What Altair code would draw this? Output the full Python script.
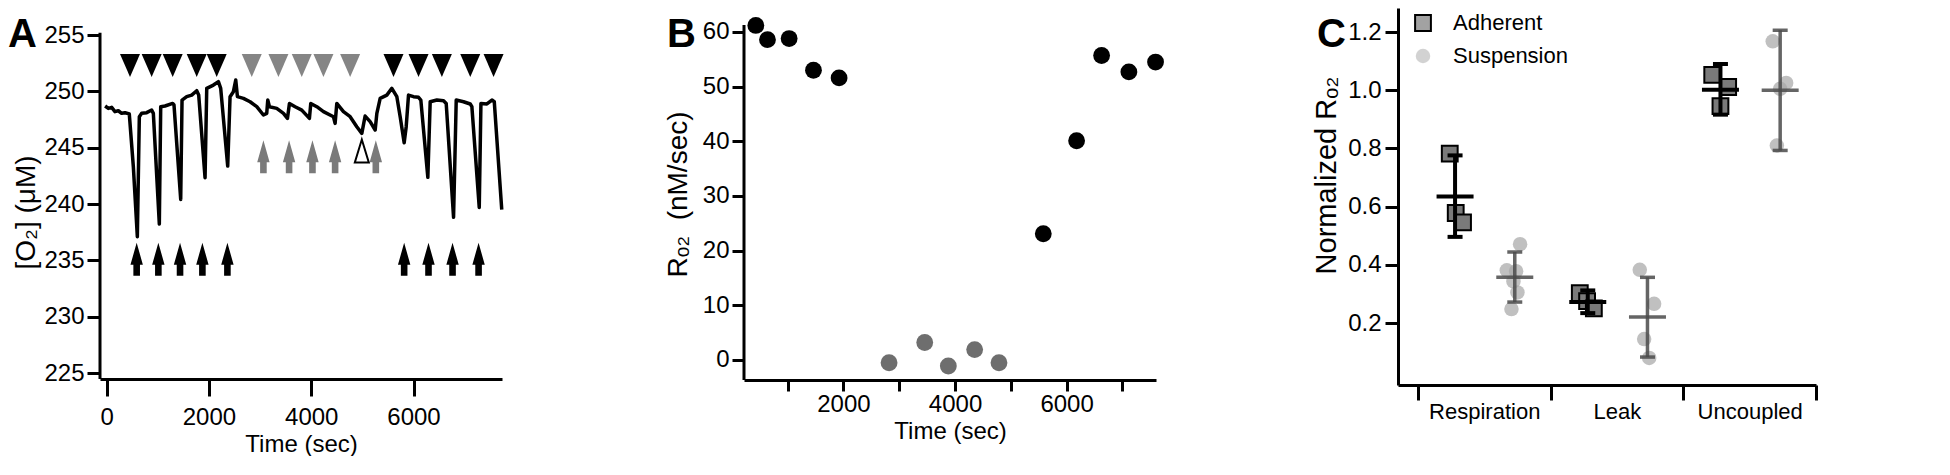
import altair as alt
import pandas as pd

FONT = "Liberation Sans, Arial, Helvetica, sans-serif"

# ---------------- Panel A : O2 trace ----------------
trace_time = [-30, 33, 98, 163, 228, 293, 359, 443, 522, 600,
              639, 685, 783, 880, 913, 1030, 1057, 1141, 1291, 1317,
              1448, 1474, 1565, 1663, 1761, 1800, 1924, 1957, 2087, 2185,
              2230, 2367, 2413, 2478, 2524, 2557, 2674, 2804, 2935, 3065,
              3130, 3150, 3183, 3326, 3457, 3535, 3574, 3685, 3815, 3965,
              3991, 4109, 4239, 4435, 4467, 4500, 4630, 4761, 4891, 4989,
              5054, 5152, 5250, 5283, 5348, 5478, 5576, 5674, 5739, 5817,
              5857, 5902, 6000, 6098, 6143, 6280, 6326, 6457, 6587, 6639,
              6783, 6835, 6978, 7109, 7141, 7285, 7318, 7435, 7533, 7579,
              7725]
trace_o2 = [248.70, 248.49, 248.58, 248.20, 248.28, 248.05, 248.11, 247.99, 243.31, 237.10,
            247.75, 248.05, 248.11, 248.34, 248.05, 238.22, 248.64, 248.70, 248.93, 248.79,
            240.41, 249.23, 249.53, 249.67, 250.06, 249.67, 242.34, 250.27, 250.56, 250.86,
            250.27, 243.37, 249.53, 249.97, 251.01, 249.53, 249.38, 249.08, 248.64, 247.90,
            248.05, 249.23, 248.64, 248.49, 248.05, 247.60, 248.93, 248.64, 248.34, 247.60,
            248.93, 248.64, 248.20, 247.75, 247.16, 248.93, 248.20, 247.75, 246.86, 246.27,
            247.81, 247.31, 246.57, 248.05, 249.38, 249.67, 250.27, 249.53, 247.75, 245.44,
            246.86, 249.67, 249.53, 249.47, 249.23, 242.37, 249.08, 249.23, 249.17, 248.93,
            238.82, 249.23, 249.08, 248.88, 248.64, 239.70, 248.93, 248.88, 249.23, 249.08,
            239.50]

tri_black_time = [457, 880, 1291, 1761, 2152, 5609, 6098, 6554, 7109, 7565]
tri_gray_time = [2837, 3359, 3815, 4239, 4761]
tri_level = 252.3
arrow_black_time = [587, 1011, 1435, 1872, 2361, 5817, 6293, 6763, 7272]
arrow_black_level = 235.1
arrow_gray_time = [3065, 3567, 4024, 4467, 5263]
arrow_gray_level = 244.2
open_tri_time = [4989]
open_tri_level = 244.7

a_x_ticks = [0, 2000, 4000, 6000]
a_y_ticks = [225, 230, 235, 240, 245, 250, 255]

# ---------------- Panel B : rates ----------------
b_black_time = [430, 639, 1027, 1463, 1922, 5582, 6179, 6627, 7116, 7594]
b_black_rate = [61.2, 58.6, 58.8, 53.0, 51.6, 23.1, 40.1, 55.7, 52.7, 54.5]
b_gray_time = [2818, 3457, 3880, 4352, 4788]
b_gray_rate = [-0.5, 3.2, -1.1, 1.9, -0.5]

b_x_ticks = [1000, 2000, 3000, 4000, 5000, 6000, 7000]
b_y_ticks = [0, 10, 20, 30, 40, 50, 60]

# ---------------- Panel C : normalized ----------------
categories = ["Respiration", "Leak", "Uncoupled"]
groups = ["Adherent", "Suspension"]

adh_cat = [0, 0, 0, 1, 1, 1, 2, 2, 2]
adh_value = [0.782, 0.578, 0.546, 0.303, 0.275, 0.250, 1.053, 1.011, 0.945]
adh_jitter = [-0.04, 0.005, 0.06, -0.06, -0.005, 0.046, -0.062, 0.058, 0.0]

sus_cat = [0, 0, 0, 0, 0, 0, 1, 1, 1, 1, 2, 2, 2, 2]
sus_value = [0.471, 0.381, 0.378, 0.343, 0.305, 0.248,
             0.383, 0.266, 0.145, 0.080,
             1.168, 1.025, 1.005, 0.810]
sus_jitter = [0.04, -0.06, 0.01, -0.01, 0.02, -0.025,
              -0.058, 0.05, -0.025, 0.013,
              -0.056, 0.045, 0.0, -0.025]

adh_mean = [0.635, 0.272, 1.002]
adh_lo = [0.496, 0.234, 0.916]
adh_hi = [0.776, 0.312, 1.090]
sus_mean = [0.357, 0.221, 1.000]
sus_lo = [0.272, 0.083, 0.793]
sus_hi = [0.444, 0.357, 1.206]

c_y_ticks = [0.2, 0.4, 0.6, 0.8, 1.0, 1.2]
c_x_ticks = [0, 0.5, 1, 1.5, 2, 2.5, 3]

# ---------------- layout / styling constants ----------------
W_A, W_B, W_C = 402, 412, 418
H_A, H_B, H_C = 371, 372, 377
GAP = 242
TITLE_OFFSET = -47
TRI_DOWN = "M-1,-1.15L1,-1.15L0,1.15Z"
TRI_UP = "M0,-1.15L0.7,1.15L-0.7,1.15Z"
ARROW_UP = "M0,-1.65L0.62,0.55L0.33,0.55L0.33,1.65L-0.33,1.65L-0.33,0.55L-0.62,0.55Z"
GROUP_SHIFT = {"Adherent": -0.22, "Suspension": 0.23}


def panel_title(letter, dx):
    return alt.TitleParams(letter, anchor="start", frame="group", orient="top", offset=TITLE_OFFSET,
                           dx=dx, baseline="top", fontSize=40, fontWeight="bold", font=FONT,
                           color="black")


# =============== Panel A ===============
A_X_DOMAIN = [-130, 7730]
A_Y_DOMAIN = [224.47, 257.4]
xA = alt.X("time:Q", scale=alt.Scale(domain=A_X_DOMAIN, nice=False, zero=False),
           axis=alt.Axis(values=a_x_ticks, format="d", title="Time (sec)", tickSize=17,
                         labelPadding=9, titlePadding=3, labelFlush=False, labelOverlap=False))
yA = alt.Y("o2:Q", scale=alt.Scale(domain=A_Y_DOMAIN, nice=False, zero=False),
           axis=alt.Axis(values=a_y_ticks, format="d", title="[O₂] (μM)", domain=False,
                         tickSize=13, labelPadding=3, titleFontSize=28, titlePadding=3,
                         titleY=204, labelOverlap=False))

trace_df = pd.DataFrame({"time": trace_time, "o2": trace_o2})
line_A = alt.Chart(trace_df).mark_line(color="black", strokeWidth=3.5, strokeJoin="round").encode(x=xA, y=yA)


def marker_layer(times, level, shape, color):
    df = pd.DataFrame({"time": times, "o2": [level] * len(times)})
    return alt.Chart(df).mark_point(shape=shape, size=400, filled=True, color=color,
                                    opacity=1, strokeWidth=0).encode(x=xA, y=yA)


tri_b = marker_layer(tri_black_time, tri_level, TRI_DOWN, "black")
tri_g = marker_layer(tri_gray_time, tri_level, TRI_DOWN, "#858585")
arr_b = marker_layer(arrow_black_time, arrow_black_level, ARROW_UP, "black")
arr_g = marker_layer(arrow_gray_time, arrow_gray_level, ARROW_UP, "#7a7a7a")
open_df = pd.DataFrame({"time": open_tri_time, "o2": [open_tri_level] * len(open_tri_time)})
open_t = alt.Chart(open_df).mark_point(shape=TRI_UP, size=400, filled=True, fill="white",
                                       stroke="black", strokeWidth=2, opacity=1).encode(x=xA, y=yA)

axisline_A = alt.Chart(pd.DataFrame({"o2": [255.2], "o2_end": [A_Y_DOMAIN[0]]})).mark_rule(
    color="black", strokeWidth=3).encode(x=alt.value(0), y=yA, y2="o2_end:Q")

panelA = alt.layer(line_A, tri_b, tri_g, arr_b, arr_g, open_t, axisline_A).properties(
    width=W_A, height=H_A, title=panel_title("A", -92))

# =============== Panel B ===============
B_X_DOMAIN = [218, 7602]
B_Y_DOMAIN = [-3.66, 64.39]
xB = alt.X("time:Q", scale=alt.Scale(domain=B_X_DOMAIN, nice=False, zero=False),
           axis=alt.Axis(values=b_x_ticks, format="d",
                         labelExpr="datum.value % 2000 === 0 ? datum.label : ''",
                         title="Time (sec)", tickSize=11, labelPadding=1, titlePadding=3,
                         labelFlush=False, labelOverlap=False))
yB = alt.Y("rate:Q", scale=alt.Scale(domain=B_Y_DOMAIN, nice=False, zero=False),
           axis=alt.Axis(values=b_y_ticks, format="d", title="Rₒ₂\u00a0 (nM/sec)", domain=False,
                         tickSize=12, labelPadding=3, titleFontSize=28, titlePadding=10,
                         labelOverlap=False))

b_black_df = pd.DataFrame({"time": b_black_time, "rate": b_black_rate})
b_gray_df = pd.DataFrame({"time": b_gray_time, "rate": b_gray_rate})
pts_Bk = alt.Chart(b_black_df).mark_circle(size=283, color="black", opacity=1).encode(x=xB, y=yB)
pts_Bg = alt.Chart(b_gray_df).mark_circle(size=283, color="#6e6e6e", opacity=1).encode(x=xB, y=yB)
axisline_B = alt.Chart(pd.DataFrame({"rate": [61.3], "rate_end": [B_Y_DOMAIN[0]]})).mark_rule(
    color="black", strokeWidth=3).encode(x=alt.value(0), y=yB, y2="rate_end:Q")

panelB = alt.layer(pts_Bk, pts_Bg, axisline_B).properties(
    width=W_B, height=H_B, title=panel_title("B", -77))

# =============== Panel C ===============
C_X_DOMAIN = [-0.15, 3]
C_Y_DOMAIN = [-0.013, 1.2825]
label_expr = " : ".join(
    [f"datum.value === {i + 0.5} ? '{c}'" for i, c in enumerate(categories)]) + " : ''"
axis_Cx = alt.Axis(values=c_x_ticks, labelExpr=label_expr, title=None, tickSize=15,
                   tickOpacity={"condition": {"test": "datum.value % 1 === 0", "value": 1}, "value": 0},
                   labelPadding=1, labelFontSize=22, labelFlush=False, labelOverlap=False)
axis_Cy = alt.Axis(values=c_y_ticks, format=".1f", title="Normalized Rₒ₂", tickSize=13,
                   labelPadding=4, titleFontSize=29, titlePadding=6, titleY=167,
                   labelOverlap=False)
scale_Cy = alt.Scale(domain=C_Y_DOMAIN, nice=False, zero=False)
xC = alt.X("xpos:Q", scale=alt.Scale(domain=C_X_DOMAIN, nice=False, zero=False), axis=axis_Cx)
yC = alt.Y("value:Q", scale=scale_Cy, axis=axis_Cy)

pts_df = pd.DataFrame({
    "cat": adh_cat + sus_cat,
    "group": ["Adherent"] * len(adh_cat) + ["Suspension"] * len(sus_cat),
    "value": adh_value + sus_value,
    "jitter": adh_jitter + sus_jitter,
})
pts_df["xpos"] = pts_df["cat"] + 0.5 + pts_df["group"].map(GROUP_SHIFT) + pts_df["jitter"]

# the legend is placed relative to the whole chart's origin (plot A's top-left corner)
leg = alt.Legend(title=None, orient="none", legendX=W_A + GAP + W_B + GAP + 14, legendY=4)
pts_C = alt.Chart(pts_df).mark_point(filled=True, strokeWidth=2).encode(
    x=xC, y=yC,
    shape=alt.Shape("group:N", scale=alt.Scale(domain=groups, range=["square", "circle"]), legend=leg),
    fill=alt.Fill("group:N", scale=alt.Scale(domain=groups, range=["#7a7a7a", "#a8a8a8"]), legend=leg),
    stroke=alt.Stroke("group:N", scale=alt.Scale(domain=groups, range=["black", "transparent"]), legend=leg),
    opacity=alt.Opacity("group:N", scale=alt.Scale(domain=groups, range=[1, 0.72]), legend=leg),
    size=alt.Size("group:N", scale=alt.Scale(domain=groups, range=[250, 210]), legend=leg),
)

sum_df = pd.DataFrame({
    "cat": [0, 1, 2] * 2,
    "group": ["Adherent"] * 3 + ["Suspension"] * 3,
    "value": adh_mean + sus_mean,
    "lo": adh_lo + sus_lo,
    "hi": adh_hi + sus_hi,
})
sum_df["xpos"] = sum_df["cat"] + 0.5 + sum_df["group"].map(GROUP_SHIFT)


def err_layers(group, color, width, op):
    base = alt.Chart(sum_df).transform_filter(alt.datum.group == group)
    yl = alt.Y("lo:Q", scale=scale_Cy, axis=axis_Cy)
    yh = alt.Y("hi:Q", scale=scale_Cy, axis=axis_Cy)
    vrule = base.mark_rule(color=color, strokeWidth=width, opacity=op).encode(x=xC, y=yl, y2="hi:Q")
    cap_lo = base.mark_tick(orient="horizontal", size=15, thickness=width, color=color, opacity=op).encode(x=xC, y=yl)
    cap_hi = base.mark_tick(orient="horizontal", size=15, thickness=width, color=color, opacity=op).encode(x=xC, y=yh)
    mean = base.mark_tick(orient="horizontal", size=37, thickness=width, color=color, opacity=op).encode(x=xC, y=yC)
    return [vrule, cap_lo, cap_hi, mean]


panelC = alt.layer(pts_C, *err_layers("Adherent", "black", 4, 1),
                   *err_layers("Suspension", "#4a4a4a", 3.5, 0.85)).properties(
    width=W_C, height=H_C, title=panel_title("C", -81))

chart = alt.hconcat(panelA, panelB, panelC, spacing=GAP, bounds="flush").properties(
    padding=0
).configure_view(stroke=None).configure_axis(
    labelFont=FONT, titleFont=FONT, labelFontSize=24, titleFontSize=24, labelColor="black",
    titleColor="black", titleFontWeight="normal", domainColor="black", tickColor="black",
    domainWidth=3, tickWidth=3, grid=False
).configure_legend(
    labelFont=FONT, labelFontSize=22, labelColor="black", padding=0, rowPadding=9,
    labelOffset=19, symbolStrokeWidth=2
)

chart.save("out.html", embed_options={"renderer": "svg", "actions": False})
